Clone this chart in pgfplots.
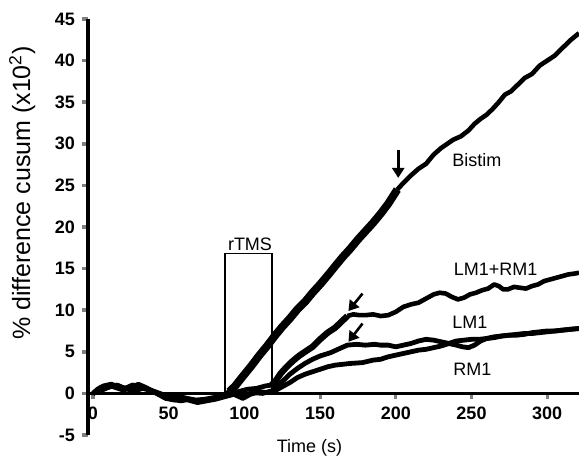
\documentclass[border=0pt]{standalone}
\usepackage{fontspec}
\setmainfont{Liberation Sans}
\usepackage{pgfplots}
\pgfplotsset{compat=1.18}
\usetikzlibrary{arrows.meta}

\begin{document}
\begin{tikzpicture}[x=1pt,y=1pt]
\useasboundingbox (-44,-15.5) rectangle (245.5,217.5);
\begin{axis}[
    scale only axis,
    width=245.5pt, height=208pt,
    xmin=-3.3, xmax=321, ymin=-5, ymax=45,
    axis x line*=middle, axis y line*=left,
    x axis line style={line width=1.6pt},
    y axis line style={line width=2.4pt},
    xtick={0,50,...,300}, ytick={-5,0,...,45},
    tick align=outside, major tick length=3pt,
    xtick style={line width=1.6pt}, ytick style={line width=1.8pt},
    ticklabel style={font=\fontsize{9}{10}\selectfont\bfseries},
    /pgf/number format/assume math mode=true,
    xlabel={Time (s)},
    xlabel style={at={(axis description cs:0.451,-0.032)},anchor=center,font=\fontsize{9}{10}\selectfont},
    ylabel={\% difference cusum (x10\textsuperscript{2})},
    ylabel style={at={(axis description cs:-0.134,0.582)},anchor=center,rotate=0,font=\fontsize{12.5}{14}\selectfont},
    clip=false,
]
% rTMS box
\addplot[black, line width=0.8pt] coordinates {(87.2,0) (87.2,16.8) (118.3,16.8) (118.3,0)};
\node[font=\fontsize{9}{10}\selectfont] at (axis cs:103.7,17.9) {rTMS};

% Bistim
\addplot[black, line width=2.4pt, line join=round] coordinates {
(0,0) (3,0.5) (7,0.9) (12,1.1) (17,0.8) (22,0.6) (27,0.9) (32,0.8) (38,0.4) (44,0.0)
(50,-0.4) (56,-0.5) (62,-0.6) (68,-0.8) (74,-0.7) (80,-0.5) (86,-0.2) (90,0.2)};
\addplot[black, line width=4pt, line join=round] coordinates {
(90,0.2) (94,0.9) (97,1.6) (101,2.5) (105,3.4) (110,4.6) (115,5.7) (120,6.9) (125,8.0)
(130,9.0) (135,10.1) (140,11.0) (145,12.1) (150,13.1) (156,14.4) (160,15.3) (165,16.4)
(170,17.4) (175,18.5) (180,19.5) (185,20.5) (190,21.6) (195,22.8) (201,24.5)};
\addplot[black, line width=2.3pt, line join=round] coordinates {
(201,24.5) (205,25.3) (210,26.2) (215,27.0) (220,27.6) (225,28.7) (230,29.5) (234,30.0)
(238,30.5) (243,30.9) (248,31.6) (252,32.4) (256,33.0) (260,33.5) (264,34.2) (268,35.0)
(272,35.9) (276,36.3) (280,37.0) (285,37.9) (290,38.4) (295,39.4) (300,40.0) (305,40.6)
(310,41.5) (315,42.4) (321,43.3)};

% LM1+RM1
\addplot[black, line width=2.4pt, line join=round] coordinates {
(0,0) (4,0.3) (9,0.7) (14,0.9) (20,0.5) (26,1.0) (31,0.9) (36,0.5) (42,0.0) (48,-0.6)
(54,-0.8) (60,-0.5) (66,-0.9) (72,-0.9) (78,-0.6) (84,-0.4) (90,-0.2) (96,0.2) (102,0.5)
(108,0.6) (114,0.9) (118,1.0)};
\addplot[black, line width=3.2pt, line join=round] coordinates {
(118,1.0) (121,1.6) (124,2.4) (128,3.2) (132,3.9) (136,4.5) (140,5.0) (145,5.6) (150,6.5)
(155,7.3) (160,7.9) (164,8.6) (168,9.3)};
\addplot[black, line width=2.3pt, line join=round] coordinates {
(168,9.3) (172,9.5) (176,9.4) (180,9.4) (185,9.5) (190,9.3) (195,9.4) (200,9.8) (205,10.4)
(210,10.7) (215,10.9) (220,11.4) (225,11.9) (229,12.1) (233,12.0) (237,11.6) (241,11.3)
(245,11.5) (249,11.9) (253,12.1) (257,12.4) (261,12.6) (265,13.1) (268,12.9) (271,12.5)
(274,12.5) (278,12.8) (282,12.7) (286,12.6) (290,12.9) (294,13.1) (298,13.5) (302,13.7)
(306,13.9) (310,14.1) (314,14.3) (318,14.4) (321,14.5)};

% LM1
\addplot[black, line width=2.4pt, line join=round] coordinates {
(0,0) (5,0.7) (10,1.0) (15,0.7) (20,0.4) (25,0.7) (30,1.1) (35,0.7) (40,0.2) (46,-0.3)
(52,-0.7) (58,-0.9) (64,-0.7) (70,-1.0) (76,-0.8) (82,-0.5) (88,-0.3) (94,0.0) (100,-0.2)
(106,0.1) (112,0.0) (118,0.3) (122,0.9) (126,1.6) (130,2.3) (135,3.0) (140,3.6) (145,4.1)
(150,4.5) (157,4.9) (163,5.4) (168,5.8) (174,5.9) (180,5.8) (186,5.9) (190,5.8) (195,5.8)
(200,5.6) (205,5.8) (210,6.0) (215,6.3) (220,6.5) (225,6.4) (230,6.2) (235,6.0) (240,5.8)
(244,5.6) (248,5.5) (252,5.8) (256,6.3) (260,6.6) (265,6.8) (270,6.9) (275,7.0) (280,7.1)
(285,7.2) (290,7.2) (295,7.3) (300,7.4) (305,7.5) (310,7.6) (315,7.7) (321,7.8)};

% RM1
\addplot[black, line width=2.4pt, line join=round] coordinates {
(0,0) (6,0.4) (11,0.8) (16,1.0) (21,0.6) (27,0.3) (33,0.6) (39,0.3) (45,-0.1) (51,-0.5)
(57,-0.3) (63,-0.8) (69,-1.1) (75,-0.9) (81,-0.7) (87,-0.4) (93,-0.1) (99,-0.6) (104,-0.1)
(110,0.2) (115,0.1) (120,0.3) (125,0.8) (130,1.3) (135,1.9) (140,2.3) (145,2.6) (150,2.9)
(155,3.2) (160,3.4) (165,3.5) (170,3.6) (178,3.7) (185,4.0) (190,4.1) (195,4.4) (200,4.6)
(205,4.8) (210,5.0) (215,5.2) (220,5.3) (225,5.5) (230,5.7) (235,6.0) (240,6.3) (245,6.4)
(250,6.5) (255,6.5) (260,6.6) (265,6.7) (270,6.9) (275,7.0) (280,7.0) (285,7.1) (290,7.3)
(295,7.4) (300,7.5) (305,7.5) (310,7.6) (315,7.7) (321,7.8)};

% arrows
\draw[line width=1.3pt, -{Triangle[length=5pt,width=6pt]}] (axis cs:201.6,29.2) -- (axis cs:201.6,25.9);
\draw[line width=1.3pt, -{Triangle[length=5pt,width=6pt]}] (axis cs:178,12.0) -- (axis cs:168.7,9.9);
\draw[line width=1.3pt, -{Triangle[length=5pt,width=6pt]}] (axis cs:178,8.4) -- (axis cs:168.7,6.2);

% labels
\node[font=\fontsize{9}{10}\selectfont] at (axis cs:253.6,28.1) {Bistim};
\node[font=\fontsize{9}{10}\selectfont] at (axis cs:266,14.9) {LM1+RM1};
\node[font=\fontsize{9}{10}\selectfont] at (axis cs:249,8.5) {LM1};
\node[font=\fontsize{9}{10}\selectfont] at (axis cs:250.5,2.9) {RM1};
\end{axis}
\end{tikzpicture}
\end{document}
